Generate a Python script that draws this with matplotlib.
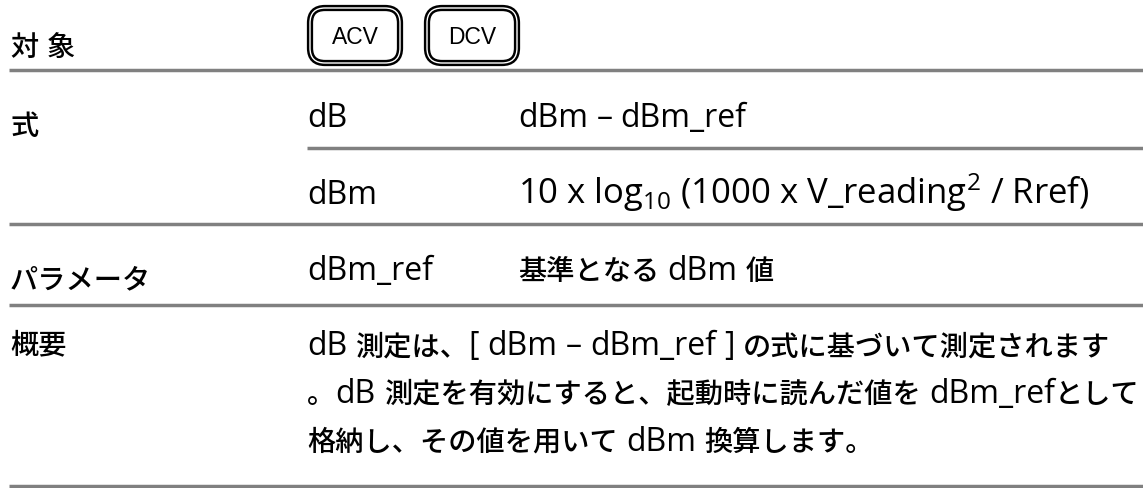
import re
import matplotlib
matplotlib.use("Agg")
import matplotlib.pyplot as plt
from matplotlib.patches import FancyBboxPatch

plt.rcParams['font.family'] = ['Open Sans', 'Noto Sans CJK JP', 'DejaVu Sans']
plt.rcParams['mathtext.fontset'] = 'custom'
plt.rcParams['mathtext.rm'] = 'Open Sans'
plt.rcParams['mathtext.it'] = 'Open Sans'
plt.rcParams['mathtext.bf'] = 'Open Sans'

# row labels (left column), baseline y in px
row_labels = ["対 象", "式", "パラメータ", "概要"]
label_y = [56, 135, 288, 353]

# target buttons
buttons = ["ACV", "DCV"]
button_x = [308, 425]

# formula / parameter entries
entry_names = ["dB", "dBm", "dBm_ref"]
entry_desc = ["dBm – dBm_ref",
              r"10 x log$_{10}$ (1000 x V_reading$^{2}$ / Rref)",
              "基準となる dBm 値"]
entry_y = [127, 204, 280]

# overview paragraph
overview = ["dB 測定は、[ dBm – dBm_ref ] の式に基づいて測定されます",
            "。dB 測定を有効にすると、起動時に読んだ値を dBm_refとして",
            "格納し、その値を用いて dBm 換算します。"]
overview_y = [355, 403, 451]

# separator lines: y and left end
sep_y = [70, 148, 224, 305, 486]
sep_x0 = [9, 307, 9, 9, 9]

W, H = 1143, 488
fig = plt.figure(figsize=(W / 100, H / 100), dpi=100)
ax = fig.add_axes([0, 0, 1, 1])
ax.set_xlim(0, W)
ax.set_ylim(H, 0)
ax.axis("off")
renderer = fig.canvas.get_renderer()

FS_CJK = 20.3   # japanese glyphs
FS_LAT = 23     # latin glyphs look larger in the original (meiryo)
FS_FORMULA = 25
COL1, COL2, COL3 = 10, 307, 518
CJK = re.compile(r"([\u3000-\u30ff\u4e00-\u9fff\uff00-\uffef]+| +)")


def mixed_text(x, y, s):
    # draw latin / japanese runs one after another on a shared baseline
    for run in CJK.split(s):
        if not run:
            continue
        if run.startswith(" "):
            x += len(run) * 0.26 * FS_LAT * 100 / 72
            continue
        if CJK.fullmatch(run):
            t = ax.text(x, y, run, fontsize=FS_CJK, family="Noto Sans CJK JP",
                        weight=500, va="baseline", ha="left")
        else:
            t = ax.text(x, y, run, fontsize=FS_LAT, family="Open Sans",
                        va="baseline", ha="left")
        x += t.get_window_extent(renderer).width


for lab, y in zip(row_labels, label_y):
    mixed_text(COL1, y, lab)

for name, x in zip(buttons, button_x):
    for ec, lw in [("black", 4.5), ("white", 1.0)]:
        box = FancyBboxPatch((x + 2, 8), 90, 55, boxstyle="round,pad=0,rounding_size=15",
                             fc="white" if ec == "black" else "none", ec=ec, lw=lw)
        ax.add_patch(box)
    ax.text(x + 47, 37, name, fontsize=16.5, ha="center", va="center",
            family="Liberation Sans")

for name, desc, y in zip(entry_names, entry_desc, entry_y):
    mixed_text(COL2, y, name)
    if "$" in desc:
        ax.text(COL3, y, desc, fontsize=FS_FORMULA, va="baseline", ha="left",
                family="Open Sans")
    else:
        mixed_text(COL3, y, desc)

for line, y in zip(overview, overview_y):
    mixed_text(COL2, y, line)

for y, x0 in zip(sep_y, sep_x0):
    ax.plot([x0, W], [y, y], color="#808080", lw=2.5, solid_capstyle="butt")

fig.savefig("out.png", dpi=100)
